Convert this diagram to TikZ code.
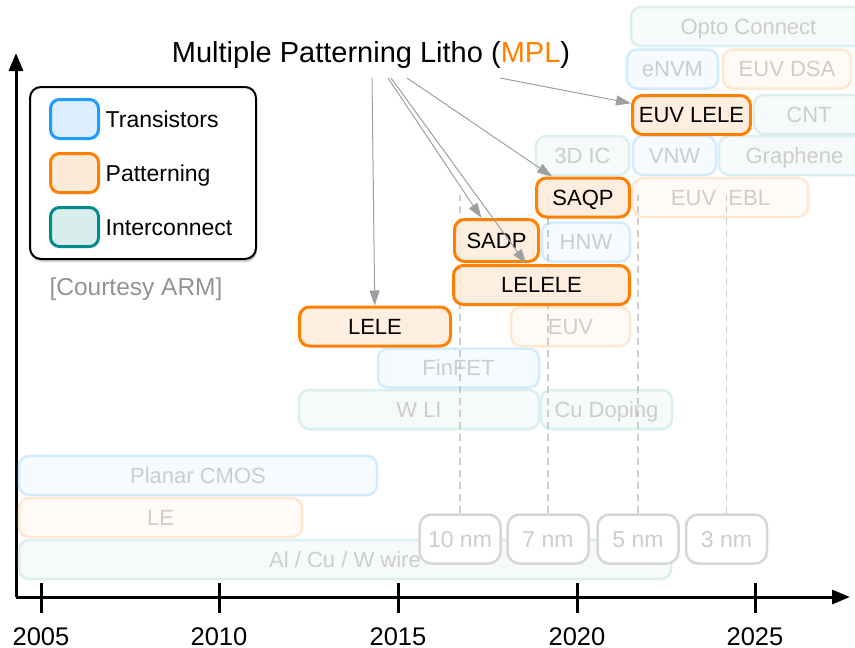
\documentclass[tikz,border=0pt]{standalone}
\usepackage{fontspec}
\setmainfont{Liberation Sans}
\usetikzlibrary{arrows.meta,positioning,shadows}

\definecolor{trsline}{HTML}{1E9BFF}
\definecolor{trsfill}{HTML}{DDEEFF}
\definecolor{patline}{HTML}{FF7F00}
\definecolor{patfill}{HTML}{FDEBDA}
\definecolor{intline}{HTML}{008C8C}
\definecolor{intfill}{HTML}{DAEDED}
\definecolor{dimtext}{HTML}{CDCDCD}
\definecolor{nmline}{HTML}{D6D6D6}

\begin{document}
\begin{tikzpicture}[
        x=1pt, y=-1pt,
        box/.style={rectangle, rounded corners=10pt, inner sep=0pt, minimum height=39pt,
                    text height=15.8pt, text depth=0pt, font=\fontsize{22}{26}\selectfont},
        trsdim/.style={box, draw=trsline!20, fill=trsfill!25, line width=2.5pt, text=dimtext},
        patdim/.style={box, draw=patline!18, fill=patfill!25, line width=2.5pt, text=dimtext},
        intdim/.style={box, draw=intline!14, fill=intfill!25, line width=2.5pt, text=dimtext},
        mplbox/.style={box, draw=patline, fill=patfill, fill opacity=0.85, text opacity=1, line width=3pt},
        nmbox/.style={box, draw=nmline, fill=white, line width=2.5pt, rounded corners=12pt,
                      minimum width=81pt, minimum height=49pt, text height=16.5pt,
                      font=\fontsize{23}{27}\selectfont},
        swatch/.style={rectangle, rounded corners=9pt, line width=3pt, minimum width=48pt, minimum height=39pt},
        legendlbl/.style={inner sep=0pt, anchor=west, text height=16.5pt, text depth=0pt,
                          font=\fontsize{23}{27}\selectfont},
        yearlbl/.style={inner sep=0pt, text height=18.3pt, text depth=0pt, font=\fontsize{25.5}{30}\selectfont},
        axis/.style={line width=3pt},
        guide/.style={gray!55, dash pattern=on 7pt off 5pt, line width=1.2pt, opacity=0.7},
        ptr/.style={gray!75, line width=1pt, -{Triangle[length=15pt,width=10pt]}}]

    \useasboundingbox (0,0) rectangle (855,648);
    \clip (0,0) rectangle (855,648);

    % --- Ejes
    \coordinate (origin) at (16,597);
    \coordinate (xend) at (850,597);
    \coordinate (yend) at (16,53);
    \draw[axis, -{Triangle[length=18pt,width=14pt]}] (origin) -- (xend);
    \draw[axis, -{Triangle[length=18pt,width=14pt]}] (origin) -- (yend);
    \foreach \yr/\x in {2005/41,2010/219,2015/398,2020/577,2025/755} {
        \draw[axis] (\x,583) -- (\x,613);
        \node[yearlbl] (y\yr) at (\x,636) {\yr};
    }

    % --- Transistores (atenuados)
    \foreach \nm/\cx/\cy/\w/\txt in {planar/198/475.5/358/Planar CMOS, finfet/458.5/368/161/FinFET,
            hnw/586/242/88/HNW, vnw/674.5/155.5/83/VNW, envm/672.5/69/91/eNVM}
        \node[trsdim, minimum width=\w] (\nm) at (\cx,\cy) {\txt};

    % --- Patterning (atenuados)
    \foreach \nm/\cx/\cy/\w/\txt in {le/160.5/517.5/283/LE, euv/570.5/326.5/119/EUV,
            euvebl/720.5/197.5/175/{EUV\ \ EBL}, euvdsa/787/69/128/EUV DSA}
        \node[patdim, minimum width=\w] (\nm) at (\cx,\cy) {\txt};

    % --- Interconnect (atenuados)
    \node[intdim, minimum width=652] (wire) at (345,559.5) {Al / Cu / W wire};
    \foreach \nm/\cx/\cy/\w/\txt in {wli/419/409.5/240/W LI, cudop/606.5/409.5/131/Cu Doping,
            threedic/582.5/155.5/93/3D IC, graphene/794.5/155.5/151/Graphene,
            cnt/809/114.5/110/CNT, opto/748.5/26.5/235/Opto Connect}
        \node[intdim, minimum width=\w] (\nm) at (\cx,\cy) {\txt};

    % --- Nodos tecnologicos y sus guias
    \foreach \nm/\cx/\txt in {nmten/460/10 nm, nmseven/548/7 nm, nmfive/638/5 nm, nmthree/726.5/3 nm} {
        \node[nmbox, text=dimtext] (\nm) at (\cx,539) {\txt};
        \draw[guide] (\nm.north) -- ++(0,-318);
    }

    % --- MPL
    \foreach \nm/\cx/\cy/\w/\txt in {lele/375/326.5/151/LELE, lelele/541.5/285/176/LELELE,
            saqp/583/197.5/93/SAQP, euvlele/691.5/115/118/EUV LELE}
        \node[mplbox, minimum width=\w] (\nm) at (\cx,\cy) {\txt};
    \node[mplbox, minimum width=84, minimum height=42] (sadp) at (496.5,240.5) {SADP};

    % --- Titulo y flechas
    \node[font=\fontsize{29}{34}\selectfont, inner sep=0pt, text height=20.8pt, text depth=0pt] (mpl) at (371,52)
        {Multiple Patterning Litho (\textcolor{patline}{MPL})};
    \coordinate (mplA) at (372,78);
    \coordinate (mplB) at (388,78);
    \coordinate (mplC) at (391,78);
    \coordinate (mplD) at (407,78);
    \coordinate (mplE) at (500,78);
    \draw[ptr] (mplA) -- (lele);
    \draw[ptr] (mplB) -- (sadp);
    \draw[ptr] (mplC) -- (lelele);
    \draw[ptr] (mplD) -- (saqp);
    \draw[ptr] (mplE) -- (euvlele);

    % --- Leyenda
    \node[rectangle, draw=black, fill=white, line width=2pt, rounded corners=11pt,
          minimum width=226, minimum height=172,
          drop shadow={shadow xshift=1pt, shadow yshift=-3pt, opacity=0.35}] (legend) at (143,173) {};
    \node[swatch, draw=trsline, fill=trsfill] (swtrs) at (74.5,119) {};
    \node[swatch, draw=patline, fill=patfill] (swpat) at (74.5,173) {};
    \node[swatch, draw=intline, fill=intfill] (swint) at (74.5,227) {};
    \node[legendlbl, right=5.5pt of swtrs] (lbltrs) {Transistors};
    \node[legendlbl, right=5.5pt of swpat] (lblpat) {Patterning};
    \node[legendlbl, right=5.5pt of swint] (lblint) {Interconnect};
    \node[text=gray!85, inner sep=0pt, text height=17.6pt, text depth=0pt,
          font=\fontsize{24.5}{29}\selectfont] (credit) at (136,287) {[Courtesy ARM]};

    \end{tikzpicture}
\end{document}
